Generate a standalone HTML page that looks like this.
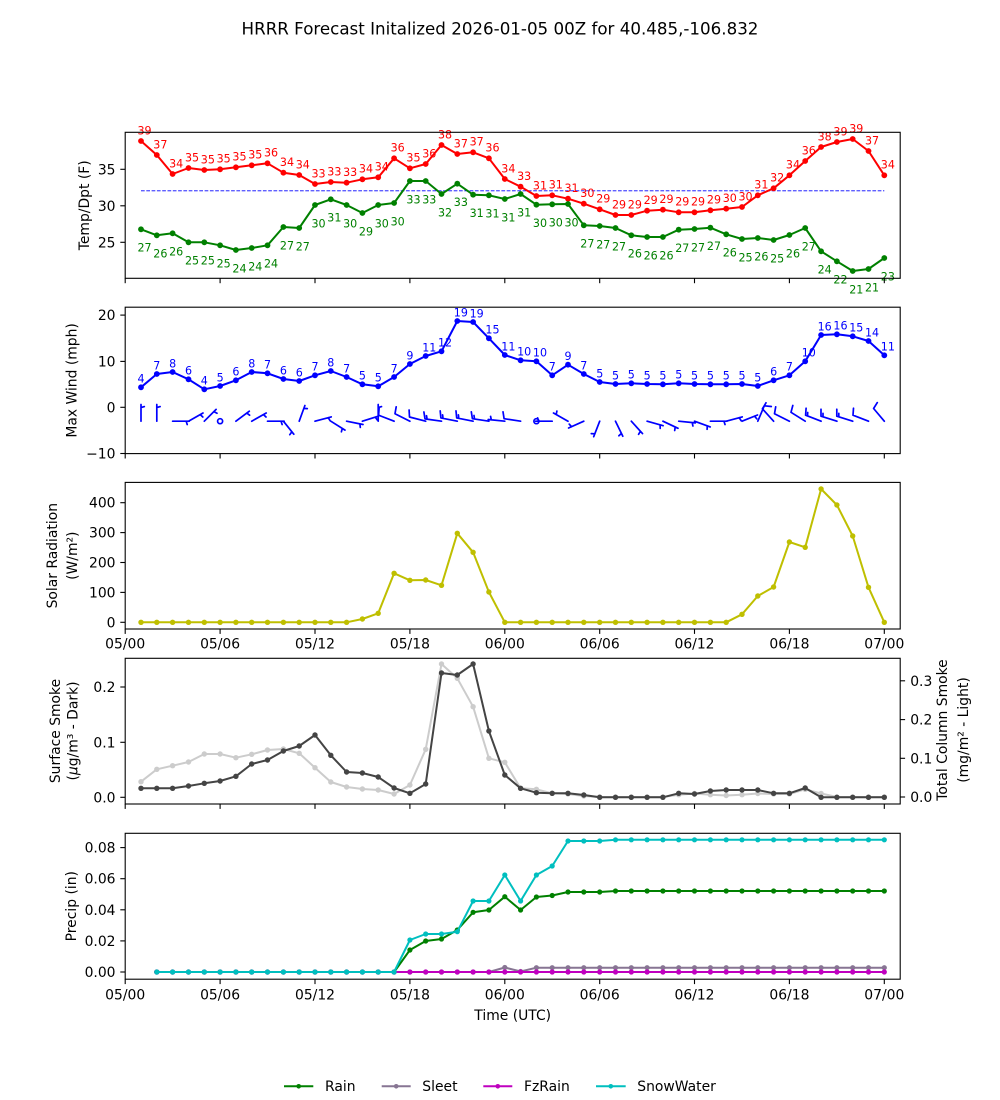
<!DOCTYPE html>
<html><head><meta charset="utf-8"><style>
html,body{margin:0;padding:0;background:#fff;}
svg{display:block;}
text{font-family:"DejaVu Sans","Liberation Sans",sans-serif;fill:#000;}
.tk{font-size:13.9px;}
.yl{font-size:13.9px;}
.vl{font-size:11.1px;}
.tr text{fill:#ff0000;} .tg text{fill:#008000;} .tb text{fill:#0000ff;}
</style></head><body>
<svg width="1000" height="1100" viewBox="0 0 1000 1100" xmlns="http://www.w3.org/2000/svg">
<defs>
<marker id="mR" viewBox="-4 -4 8 8" markerWidth="8" markerHeight="8" markerUnits="userSpaceOnUse" refX="0" refY="0"><circle r="2.9" fill="#ff0000"/></marker>
<marker id="mG" viewBox="-4 -4 8 8" markerWidth="8" markerHeight="8" markerUnits="userSpaceOnUse" refX="0" refY="0"><circle r="2.9" fill="#008000"/></marker>
<marker id="mB" viewBox="-4 -4 8 8" markerWidth="8" markerHeight="8" markerUnits="userSpaceOnUse" refX="0" refY="0"><circle r="2.9" fill="#0000ff"/></marker>
<marker id="mY" viewBox="-4 -4 8 8" markerWidth="8" markerHeight="8" markerUnits="userSpaceOnUse" refX="0" refY="0"><circle r="2.7" fill="#bfbf00"/></marker>
<marker id="mD" viewBox="-4 -4 8 8" markerWidth="8" markerHeight="8" markerUnits="userSpaceOnUse" refX="0" refY="0"><circle r="2.7" fill="#444444"/></marker>
<marker id="mL" viewBox="-4 -4 8 8" markerWidth="8" markerHeight="8" markerUnits="userSpaceOnUse" refX="0" refY="0"><circle r="2.7" fill="#cccccc"/></marker>
<marker id="mRain" viewBox="-4 -4 8 8" markerWidth="8" markerHeight="8" markerUnits="userSpaceOnUse" refX="0" refY="0"><circle r="2.6" fill="#008000"/></marker>
<marker id="mSl" viewBox="-4 -4 8 8" markerWidth="8" markerHeight="8" markerUnits="userSpaceOnUse" refX="0" refY="0"><circle r="2.6" fill="#877593"/></marker>
<marker id="mFz" viewBox="-4 -4 8 8" markerWidth="8" markerHeight="8" markerUnits="userSpaceOnUse" refX="0" refY="0"><circle r="2.6" fill="#bf00bf"/></marker>
<marker id="mSn" viewBox="-4 -4 8 8" markerWidth="8" markerHeight="8" markerUnits="userSpaceOnUse" refX="0" refY="0"><circle r="2.6" fill="#00bfbf"/></marker>
</defs>
<rect x="0" y="0" width="1000" height="1100" fill="#fff"/>

<text x="500" y="34.5" text-anchor="middle" style="font-size:16.7px">HRRR Forecast Initalized 2026-01-05 00Z for 40.485,-106.832</text>

<!-- ============ PANEL 1 ============ -->
<line x1="141" y1="190.8" x2="884.3" y2="190.8" stroke="#0000ff" stroke-width="0.9" stroke-dasharray="3.7 1.6"/>
<polyline fill="none" stroke="#ff0000" stroke-width="2" stroke-linejoin="round" marker-start="url(#mR)" marker-mid="url(#mR)" marker-end="url(#mR)" points="141.0,141 156.8,155 172.6,174 188.5,168 204.3,170 220.1,169.3 235.9,167.3 251.7,165.3 267.5,163.3 283.4,172.7 299.2,175 315.0,184 330.8,182 346.6,182.7 362.4,179.3 378.2,177.3 394.1,158.3 409.9,168.3 425.7,164 441.5,145 457.3,154 473.1,152.3 488.9,158.3 504.8,179 520.6,186.7 536.4,196 552.2,195.3 568.0,198.7 583.8,203.7 599.7,209.3 615.5,215 631.3,215 647.1,210.7 662.9,209.7 678.7,212.3 694.5,212.3 710.4,210.3 726.2,208.7 742.0,207 757.8,195.3 773.6,188.3 789.4,175.3 805.2,161 821.1,147 836.9,142 852.7,139 868.5,151 884.3,175.3"/>
<polyline fill="none" stroke="#008000" stroke-width="2" stroke-linejoin="round" marker-start="url(#mG)" marker-mid="url(#mG)" marker-end="url(#mG)" points="141.0,229.3 156.8,235.3 172.6,233.3 188.5,242.3 204.3,242.3 220.1,245.3 235.9,250 251.7,248 267.5,245.3 283.4,227 299.2,228 315.0,205 330.8,199.3 346.6,205 362.4,213 378.2,205 394.1,203 409.9,181 425.7,181 441.5,194 457.3,183.7 473.1,194.7 488.9,195.3 504.8,199 520.6,194 536.4,204.7 552.2,204.3 568.0,204 583.8,225.3 599.7,226 615.5,228 631.3,235.3 647.1,237 662.9,237 678.7,229.7 694.5,229 710.4,227.7 726.2,234.3 742.0,239 757.8,238 773.6,240 789.4,235 805.2,228 821.1,251.3 836.9,261.3 852.7,271 868.5,269 884.3,258"/>
<g class="vl tr">
<text x="137.5" y="134.3">39</text><text x="153.3" y="148.3">37</text><text x="169.1" y="167.3">34</text><text x="185.0" y="161.3">35</text><text x="200.8" y="163.3">35</text><text x="216.6" y="162.6">35</text><text x="232.4" y="160.6">35</text><text x="248.2" y="158.6">35</text><text x="264.0" y="156.6">36</text><text x="279.9" y="166.0">34</text><text x="295.7" y="168.3">34</text><text x="311.5" y="177.3">33</text><text x="327.3" y="175.3">33</text><text x="343.1" y="176.0">33</text><text x="358.9" y="172.6">34</text><text x="374.7" y="170.6">34</text><text x="390.6" y="151.6">36</text><text x="406.4" y="161.6">35</text><text x="422.2" y="157.3">36</text><text x="438.0" y="138.3">38</text><text x="453.8" y="147.3">37</text><text x="469.6" y="145.6">37</text><text x="485.4" y="151.6">36</text><text x="501.3" y="172.3">34</text><text x="517.1" y="180.0">33</text><text x="532.9" y="189.3">31</text><text x="548.7" y="188.6">31</text><text x="564.5" y="192.0">31</text><text x="580.3" y="197.0">30</text><text x="596.2" y="202.6">29</text><text x="612.0" y="208.3">29</text><text x="627.8" y="208.3">29</text><text x="643.6" y="204.0">29</text><text x="659.4" y="203.0">29</text><text x="675.2" y="205.6">29</text><text x="691.0" y="205.6">29</text><text x="706.9" y="203.6">29</text><text x="722.7" y="202.0">30</text><text x="738.5" y="200.3">30</text><text x="754.3" y="188.6">31</text><text x="770.1" y="181.6">32</text><text x="785.9" y="168.6">34</text><text x="801.7" y="154.3">36</text><text x="817.6" y="140.3">38</text><text x="833.4" y="135.3">39</text><text x="849.2" y="132.3">39</text><text x="865.0" y="144.3">37</text><text x="880.8" y="168.6">34</text>
</g>
<g class="vl tg">
<text x="137.5" y="251.6">27</text><text x="153.3" y="257.6">26</text><text x="169.1" y="255.6">26</text><text x="185.0" y="264.6">25</text><text x="200.8" y="264.6">25</text><text x="216.6" y="267.6">25</text><text x="232.4" y="272.3">24</text><text x="248.2" y="270.3">24</text><text x="264.0" y="267.6">24</text><text x="279.9" y="249.3">27</text><text x="295.7" y="250.3">27</text><text x="311.5" y="227.3">30</text><text x="327.3" y="221.6">31</text><text x="343.1" y="227.3">30</text><text x="358.9" y="235.3">29</text><text x="374.7" y="227.3">30</text><text x="390.6" y="225.3">30</text><text x="406.4" y="203.3">33</text><text x="422.2" y="203.3">33</text><text x="438.0" y="216.3">32</text><text x="453.8" y="206.0">33</text><text x="469.6" y="217.0">31</text><text x="485.4" y="217.6">31</text><text x="501.3" y="221.3">31</text><text x="517.1" y="216.3">31</text><text x="532.9" y="227.0">30</text><text x="548.7" y="226.6">30</text><text x="564.5" y="226.3">30</text><text x="580.3" y="247.6">27</text><text x="596.2" y="248.3">27</text><text x="612.0" y="250.3">27</text><text x="627.8" y="257.6">26</text><text x="643.6" y="259.3">26</text><text x="659.4" y="259.3">26</text><text x="675.2" y="252.0">27</text><text x="691.0" y="251.3">27</text><text x="706.9" y="250.0">27</text><text x="722.7" y="256.6">26</text><text x="738.5" y="261.3">25</text><text x="754.3" y="260.3">26</text><text x="770.1" y="262.3">25</text><text x="785.9" y="257.3">26</text><text x="801.7" y="250.3">27</text><text x="817.6" y="273.6">24</text><text x="833.4" y="283.6">22</text><text x="849.2" y="293.3">21</text><text x="865.0" y="291.3">21</text><text x="880.8" y="280.3">23</text>
</g>
<rect x="125.2" y="132.3" width="775" height="146" fill="none" stroke="#000" stroke-width="1.1"/>
<g stroke="#000" stroke-width="1.1">
<line x1="120.3" y1="242.3" x2="125.2" y2="242.3"/><line x1="120.3" y1="205.8" x2="125.2" y2="205.8"/><line x1="120.3" y1="169.3" x2="125.2" y2="169.3"/>
<line x1="125.2" y1="278.3" x2="125.2" y2="283.2"/><line x1="220.1" y1="278.3" x2="220.1" y2="283.2"/><line x1="315.0" y1="278.3" x2="315.0" y2="283.2"/><line x1="409.9" y1="278.3" x2="409.9" y2="283.2"/><line x1="504.8" y1="278.3" x2="504.8" y2="283.2"/><line x1="599.7" y1="278.3" x2="599.7" y2="283.2"/><line x1="694.5" y1="278.3" x2="694.5" y2="283.2"/><line x1="789.4" y1="278.3" x2="789.4" y2="283.2"/><line x1="884.3" y1="278.3" x2="884.3" y2="283.2"/>
</g>
<g class="tk" text-anchor="end">
<text x="115.5" y="247.3">25</text><text x="115.5" y="210.8">30</text><text x="115.5" y="174.3">35</text>
</g>
<text class="yl" transform="translate(88.8,205.3) rotate(-90)" text-anchor="middle">Temp/Dpt (F)</text>

<!-- ============ PANEL 2 ============ -->
<polyline fill="none" stroke="#0000ff" stroke-width="2" stroke-linejoin="round" marker-start="url(#mB)" marker-mid="url(#mB)" marker-end="url(#mB)" points="141.0,387.3 156.8,374 172.6,372 188.5,379.3 204.3,389.3 220.1,386 235.9,380.3 251.7,372 267.5,373.3 283.4,379 299.2,381 315.0,375.3 330.8,371 346.6,377 362.4,384.3 378.2,386.3 394.1,377 409.9,364 425.7,356 441.5,351.3 457.3,321 473.1,322 488.9,338.3 504.8,355 520.6,360.3 536.4,361.3 552.2,375.3 568.0,364.7 583.8,374 599.7,382 615.5,384 631.3,383.3 647.1,384 662.9,384.3 678.7,383.3 694.5,384 710.4,384.3 726.2,384.3 742.0,384 757.8,386 773.6,380.3 789.4,375.3 805.2,361.3 821.1,335 836.9,334.3 852.7,336.3 868.5,341 884.3,355.3"/>
<g class="vl tb">
<text x="137.5" y="382.6">4</text><text x="153.3" y="369.3">7</text><text x="169.1" y="367.3">8</text><text x="185.0" y="374.6">6</text><text x="200.8" y="384.6">4</text><text x="216.6" y="381.3">5</text><text x="232.4" y="375.6">6</text><text x="248.2" y="367.3">8</text><text x="264.0" y="368.6">7</text><text x="279.9" y="374.3">6</text><text x="295.7" y="376.3">6</text><text x="311.5" y="370.6">7</text><text x="327.3" y="366.3">8</text><text x="343.1" y="372.3">7</text><text x="358.9" y="379.6">5</text><text x="374.7" y="381.6">5</text><text x="390.6" y="372.3">7</text><text x="406.4" y="359.3">9</text><text x="422.2" y="351.3">11</text><text x="438.0" y="346.6">12</text><text x="453.8" y="316.3">19</text><text x="469.6" y="317.3">19</text><text x="485.4" y="333.6">15</text><text x="501.3" y="350.3">11</text><text x="517.1" y="355.6">10</text><text x="532.9" y="356.6">10</text><text x="548.7" y="370.6">7</text><text x="564.5" y="360.0">9</text><text x="580.3" y="369.3">7</text><text x="596.2" y="377.3">5</text><text x="612.0" y="379.3">5</text><text x="627.8" y="378.6">5</text><text x="643.6" y="379.3">5</text><text x="659.4" y="379.6">5</text><text x="675.2" y="378.6">5</text><text x="691.0" y="379.3">5</text><text x="706.9" y="379.6">5</text><text x="722.7" y="379.6">5</text><text x="738.5" y="379.3">5</text><text x="754.3" y="381.3">5</text><text x="770.1" y="375.6">6</text><text x="785.9" y="370.6">7</text><text x="801.7" y="356.6">10</text><text x="817.6" y="330.3">16</text><text x="833.4" y="329.6">16</text><text x="849.2" y="331.6">15</text><text x="865.0" y="336.3">14</text><text x="880.8" y="350.6">11</text>
</g>
<g fill="none" stroke="#0000ff" stroke-width="1.7" stroke-linejoin="round" stroke-linecap="round">
<path d="M141.0,421.2L141.0,404.5M141.0,407.6L144.3,406.6
M156.8,421.2L156.8,404.5M156.8,407.6L160.1,406.6
M172.6,421.2L189.3,421.2M186.2,421.2L187.2,424.5
M188.5,421.2L203.0,413.0M200.3,414.6L202.8,417.0
M204.3,421.2L216.1,409.4M213.9,411.6L217.0,413.2
M235.9,421.2L249.3,411.2M246.8,413.1L249.6,415.2
M251.7,421.2L266.2,413.0M263.5,414.6L266.0,417.0
M267.5,421.2L284.2,421.2M281.1,421.2L282.1,424.5
M283.4,421.2L293.8,434.2M291.8,431.8L289.8,434.7
M299.2,421.2L304.9,405.5M303.8,408.4L307.3,408.6
M315.0,421.2L331.2,416.9M328.2,417.7L330.1,420.7
M330.8,421.2L345.0,430.1M342.3,428.4L341.4,431.8
M346.6,421.2L363.0,424.5M359.9,423.9L360.3,427.4
M362.4,421.2L378.3,416.2M375.3,417.1L377.3,420.0
M378.2,421.2L378.2,404.5M378.2,407.6L381.5,406.6
M394.1,421.2L378.6,415.2L379.1,408.2
M409.9,421.2L395.0,413.7L396.2,406.8
M425.7,421.2L409.5,417.0L409.1,410.0
M441.5,421.2L425.0,418.9L423.9,412.0M427.1,419.2L426.5,415.7
M457.3,421.2L440.9,417.9L440.2,410.9M443.0,418.3L442.6,414.8
M473.1,421.2L456.7,417.9L456.0,410.9M458.8,418.3L458.4,414.8
M488.9,421.2L472.4,418.7L471.3,411.8M474.5,419.0L474.0,415.5
M504.8,421.2L488.2,419.5M491.3,419.8L490.6,416.4
M520.6,421.2L504.1,418.7L503.0,411.8
M552.2,421.2L535.5,421.2M538.6,421.2L537.6,417.9
M568.0,421.2L553.5,413.0M556.2,414.5L556.9,411.1
M583.8,421.2L568.6,428.0M571.5,426.7L569.2,424.1
M599.7,421.2L593.7,436.7M594.8,433.8L591.3,433.6
M615.5,421.2L622.8,436.2M621.4,433.4L618.9,435.8
M631.3,421.2L642.5,433.6M640.4,431.3L638.6,434.3
M647.1,421.2L663.1,425.7M660.1,424.9L660.2,428.4
M662.9,421.2L678.0,428.3M675.2,427.0L674.7,430.5
M678.7,421.2L695.3,422.9M692.2,422.6L692.9,426.0
M694.5,421.2L710.2,426.9M707.3,425.8L707.1,429.3
M710.4,421.2L727.1,421.2M724.0,421.2L725.0,424.5
M726.2,421.2L742.2,416.9M739.2,417.7L741.1,420.6
M742.0,421.2L757.5,415.0M754.6,416.2L756.8,418.9
M757.8,421.2L764.3,405.8L771.3,406.5
M773.6,421.2L762.4,408.8L766.0,402.8
M789.4,421.2L774.5,413.7L775.7,406.8
M805.2,421.2L791.0,412.3L792.8,405.5
M821.1,421.2L805.6,415.2L806.1,408.2M807.5,416.0L807.7,412.5
M836.9,421.2L821.0,416.2L821.0,409.2M823.0,416.8L823.0,413.3
M852.7,421.2L836.8,416.2L836.8,409.2M838.8,416.8L838.8,413.3
M868.5,421.2L853.0,415.2L853.5,408.2
M884.3,421.2L873.6,408.5L877.3,402.6"/>
<circle cx="220.1" cy="421.2" r="2.5"/>
<circle cx="536.4" cy="421.2" r="2.5"/>
</g>
<rect x="125.2" y="307.2" width="775" height="146.4" fill="none" stroke="#000" stroke-width="1.1"/>
<g stroke="#000" stroke-width="1.1">
<line x1="120.3" y1="453.5" x2="125.2" y2="453.5"/><line x1="120.3" y1="407.3" x2="125.2" y2="407.3"/><line x1="120.3" y1="361.4" x2="125.2" y2="361.4"/><line x1="120.3" y1="315.1" x2="125.2" y2="315.1"/>
<line x1="125.2" y1="453.6" x2="125.2" y2="458.5"/><line x1="220.1" y1="453.6" x2="220.1" y2="458.5"/><line x1="315.0" y1="453.6" x2="315.0" y2="458.5"/><line x1="409.9" y1="453.6" x2="409.9" y2="458.5"/><line x1="504.8" y1="453.6" x2="504.8" y2="458.5"/><line x1="599.7" y1="453.6" x2="599.7" y2="458.5"/><line x1="694.5" y1="453.6" x2="694.5" y2="458.5"/><line x1="789.4" y1="453.6" x2="789.4" y2="458.5"/><line x1="884.3" y1="453.6" x2="884.3" y2="458.5"/>
</g>
<g class="tk" text-anchor="end">
<text x="115.5" y="458.5">−10</text><text x="115.5" y="412.3">0</text><text x="115.5" y="366.4">10</text><text x="115.5" y="320.1">20</text>
</g>
<text class="yl" transform="translate(76.5,380.4) rotate(-90)" text-anchor="middle">Max Wind (mph)</text>

<!-- ============ PANEL 3 ============ -->
<polyline fill="none" stroke="#bfbf00" stroke-width="2" stroke-linejoin="round" marker-start="url(#mY)" marker-mid="url(#mY)" marker-end="url(#mY)" points="141.0,622.3 156.8,622.3 172.6,622.3 188.5,622.3 204.3,622.3 220.1,622.3 235.9,622.3 251.7,622.3 267.5,622.3 283.4,622.3 299.2,622.3 315.0,622.3 330.8,622.3 346.6,622.3 362.4,619 378.2,613.3 394.1,573.3 409.9,580.3 425.7,580 441.5,585.3 457.3,533.3 473.1,552.3 488.9,592 504.8,622.3 520.6,622.3 536.4,622.3 552.2,622.3 568.0,622.3 583.8,622.3 599.7,622.3 615.5,622.3 631.3,622.3 647.1,622.3 662.9,622.3 678.7,622.3 694.5,622.3 710.4,622.3 726.2,622.3 742.0,614.3 757.8,596 773.6,587 789.4,542 805.2,547.3 821.1,489 836.9,505 852.7,536 868.5,587.3 884.3,622.3"/>
<rect x="125.2" y="482.4" width="775" height="146.6" fill="none" stroke="#000" stroke-width="1.1"/>
<g stroke="#000" stroke-width="1.1">
<line x1="120.3" y1="622.3" x2="125.2" y2="622.3"/><line x1="120.3" y1="592.4" x2="125.2" y2="592.4"/><line x1="120.3" y1="562.5" x2="125.2" y2="562.5"/><line x1="120.3" y1="532.6" x2="125.2" y2="532.6"/><line x1="120.3" y1="502.7" x2="125.2" y2="502.7"/>
<line x1="125.2" y1="629" x2="125.2" y2="633.9"/><line x1="220.1" y1="629" x2="220.1" y2="633.9"/><line x1="315.0" y1="629" x2="315.0" y2="633.9"/><line x1="409.9" y1="629" x2="409.9" y2="633.9"/><line x1="504.8" y1="629" x2="504.8" y2="633.9"/><line x1="599.7" y1="629" x2="599.7" y2="633.9"/><line x1="694.5" y1="629" x2="694.5" y2="633.9"/><line x1="789.4" y1="629" x2="789.4" y2="633.9"/><line x1="884.3" y1="629" x2="884.3" y2="633.9"/>
</g>
<g class="tk" text-anchor="end">
<text x="115.5" y="627.3">0</text><text x="115.5" y="597.4">100</text><text x="115.5" y="567.5">200</text><text x="115.5" y="537.6">300</text><text x="115.5" y="507.7">400</text>
</g>
<g class="tk" text-anchor="middle">
<text x="125.2" y="648.5">05/00</text><text x="220.1" y="648.5">05/06</text><text x="315.0" y="648.5">05/12</text><text x="409.9" y="648.5">05/18</text><text x="504.8" y="648.5">06/00</text><text x="599.7" y="648.5">06/06</text><text x="694.5" y="648.5">06/12</text><text x="789.4" y="648.5">06/18</text><text x="884.3" y="648.5">07/00</text>
</g>
<text class="yl" transform="translate(57,555.7) rotate(-90)" text-anchor="middle">Solar Radiation</text>
<text class="yl" transform="translate(76.8,555.7) rotate(-90)" text-anchor="middle">(W/m²)</text>

<!-- ============ PANEL 4 ============ -->
<polyline fill="none" stroke="#cccccc" stroke-width="2" stroke-linejoin="round" marker-start="url(#mL)" marker-mid="url(#mL)" marker-end="url(#mL)" points="141.0,781.7 156.8,769.3 172.6,765.7 188.5,762 204.3,754 220.1,754 235.9,757.7 251.7,754.3 267.5,750 283.4,749 299.2,753.3 315.0,767.7 330.8,782 346.6,787 362.4,789 378.2,790 394.1,794 409.9,785 425.7,749.3 441.5,664 457.3,678.3 473.1,706.7 488.9,758.3 504.8,762.3 520.6,788.3 536.4,789.3 552.2,793.3 568.0,794 583.8,796 599.7,797 615.5,797 631.3,797 647.1,797 662.9,797 678.7,794.7 694.5,793.5 710.4,794.7 726.2,795.5 742.0,794.7 757.8,793.5 773.6,794 789.4,794 805.2,789.3 821.1,793.5 836.9,797 852.7,797 868.5,797 884.3,797"/>
<polyline fill="none" stroke="#444444" stroke-width="2" stroke-linejoin="round" marker-start="url(#mD)" marker-mid="url(#mD)" marker-end="url(#mD)" points="141.0,788.3 156.8,788.3 172.6,788.3 188.5,786 204.3,783.3 220.1,781 235.9,776.3 251.7,764 267.5,760 283.4,751 299.2,746 315.0,735 330.8,755.3 346.6,772 362.4,773 378.2,777 394.1,788 409.9,793.3 425.7,784 441.5,673 457.3,675 473.1,664 488.9,731 504.8,775 520.6,788.3 536.4,792.7 552.2,793.3 568.0,793.3 583.8,795 599.7,797.3 615.5,797.3 631.3,797.3 647.1,797.3 662.9,797.3 678.7,793.3 694.5,794 710.4,791 726.2,790 742.0,790 757.8,790 773.6,793.3 789.4,793.3 805.2,788 821.1,797.3 836.9,797.3 852.7,797.3 868.5,797.3 884.3,797.3"/>
<rect x="125.2" y="658.3" width="775" height="145.7" fill="none" stroke="#000" stroke-width="1.1"/>
<g stroke="#000" stroke-width="1.1">
<line x1="120.3" y1="797.3" x2="125.2" y2="797.3"/><line x1="120.3" y1="742.3" x2="125.2" y2="742.3"/><line x1="120.3" y1="687.0" x2="125.2" y2="687.0"/>
<line x1="900.2" y1="797.0" x2="905.1" y2="797.0"/><line x1="900.2" y1="758.3" x2="905.1" y2="758.3"/><line x1="900.2" y1="719.6" x2="905.1" y2="719.6"/><line x1="900.2" y1="680.8" x2="905.1" y2="680.8"/>
<line x1="125.2" y1="804" x2="125.2" y2="808.9"/><line x1="220.1" y1="804" x2="220.1" y2="808.9"/><line x1="315.0" y1="804" x2="315.0" y2="808.9"/><line x1="409.9" y1="804" x2="409.9" y2="808.9"/><line x1="504.8" y1="804" x2="504.8" y2="808.9"/><line x1="599.7" y1="804" x2="599.7" y2="808.9"/><line x1="694.5" y1="804" x2="694.5" y2="808.9"/><line x1="789.4" y1="804" x2="789.4" y2="808.9"/><line x1="884.3" y1="804" x2="884.3" y2="808.9"/>
</g>
<g class="tk" text-anchor="end">
<text x="115.5" y="802.3">0.0</text><text x="115.5" y="747.3">0.1</text><text x="115.5" y="692.0">0.2</text>
</g>
<g class="tk" text-anchor="start">
<text x="910.2" y="802.0">0.0</text><text x="910.2" y="763.3">0.1</text><text x="910.2" y="724.6">0.2</text><text x="910.2" y="685.8">0.3</text>
</g>
<text class="yl" transform="translate(60,731) rotate(-90)" text-anchor="middle">Surface Smoke</text>
<text class="yl" transform="translate(77.5,731) rotate(-90)" text-anchor="middle">(<tspan font-style="italic">μ</tspan>g/m³ - Dark)</text>
<text class="yl" transform="translate(947,730) rotate(-90)" text-anchor="middle">Total Column Smoke</text>
<text class="yl" transform="translate(968,730) rotate(-90)" text-anchor="middle">(mg/m² - Light)</text>

<!-- ============ PANEL 5 ============ -->
<polyline fill="none" stroke="#008000" stroke-width="2" stroke-linejoin="round" marker-start="url(#mRain)" marker-mid="url(#mRain)" marker-end="url(#mRain)" points="156.8,972 172.6,972 188.5,972 204.3,972 220.1,972 235.9,972 251.7,972 267.5,972 283.4,972 299.2,972 315.0,972 330.8,972 346.6,972 362.4,972 378.2,972 394.1,972 409.9,950 425.7,941 441.5,939 457.3,930 473.1,912.3 488.9,910 504.8,896.7 520.6,910 536.4,897 552.2,895.5 568.0,892 583.8,892 599.7,892 615.5,891 631.3,891 647.1,891 662.9,891 678.7,891 694.5,891 710.4,891 726.2,891 742.0,891 757.8,891 773.6,891 789.4,891 805.2,891 821.1,891 836.9,891 852.7,891 868.5,891 884.3,891"/>
<polyline fill="none" stroke="#877593" stroke-width="2" stroke-linejoin="round" marker-start="url(#mSl)" marker-mid="url(#mSl)" marker-end="url(#mSl)" points="156.8,972 172.6,972 188.5,972 204.3,972 220.1,972 235.9,972 251.7,972 267.5,972 283.4,972 299.2,972 315.0,972 330.8,972 346.6,972 362.4,972 378.2,972 394.1,972 409.9,972 425.7,972 441.5,972 457.3,972 473.1,972 488.9,972 504.8,967.5 520.6,971.5 536.4,967.7 552.2,967.7 568.0,967.7 583.8,967.7 599.7,967.7 615.5,967.7 631.3,967.7 647.1,967.7 662.9,967.7 678.7,967.7 694.5,967.7 710.4,967.7 726.2,967.7 742.0,967.7 757.8,967.7 773.6,967.7 789.4,967.7 805.2,967.7 821.1,967.7 836.9,967.7 852.7,967.7 868.5,967.7 884.3,967.7"/>
<polyline fill="none" stroke="#bf00bf" stroke-width="2" stroke-linejoin="round" marker-start="url(#mFz)" marker-mid="url(#mFz)" marker-end="url(#mFz)" points="156.8,972 172.6,972 188.5,972 204.3,972 220.1,972 235.9,972 251.7,972 267.5,972 283.4,972 299.2,972 315.0,972 330.8,972 346.6,972 362.4,972 378.2,972 394.1,972 409.9,972 425.7,972 441.5,972 457.3,972 473.1,972 488.9,972 504.8,972 520.6,972 536.4,972 552.2,972 568.0,972 583.8,972 599.7,972 615.5,972 631.3,972 647.1,972 662.9,972 678.7,972 694.5,972 710.4,972 726.2,972 742.0,972 757.8,972 773.6,972 789.4,972 805.2,972 821.1,972 836.9,972 852.7,972 868.5,972 884.3,972"/>
<polyline fill="none" stroke="#00bfbf" stroke-width="2" stroke-linejoin="round" marker-start="url(#mSn)" marker-mid="url(#mSn)" marker-end="url(#mSn)" points="156.8,972 172.6,972 188.5,972 204.3,972 220.1,972 235.9,972 251.7,972 267.5,972 283.4,972 299.2,972 315.0,972 330.8,972 346.6,972 362.4,972 378.2,972 394.1,972 409.9,940 425.7,934 441.5,934 457.3,931.7 473.1,901 488.9,901 504.8,875 520.6,901 536.4,875 552.2,866 568.0,841 583.8,841 599.7,841 615.5,839.8 631.3,839.8 647.1,839.8 662.9,839.8 678.7,839.8 694.5,839.8 710.4,839.8 726.2,839.8 742.0,839.8 757.8,839.8 773.6,839.8 789.4,839.8 805.2,839.8 821.1,839.8 836.9,839.8 852.7,839.8 868.5,839.8 884.3,839.8"/>
<rect x="125.2" y="833.3" width="775" height="145.9" fill="none" stroke="#000" stroke-width="1.1"/>
<g stroke="#000" stroke-width="1.1">
<line x1="120.3" y1="972.0" x2="125.2" y2="972.0"/><line x1="120.3" y1="940.9" x2="125.2" y2="940.9"/><line x1="120.3" y1="909.8" x2="125.2" y2="909.8"/><line x1="120.3" y1="878.7" x2="125.2" y2="878.7"/><line x1="120.3" y1="847.6" x2="125.2" y2="847.6"/>
<line x1="125.2" y1="979.2" x2="125.2" y2="984.1"/><line x1="220.1" y1="979.2" x2="220.1" y2="984.1"/><line x1="315.0" y1="979.2" x2="315.0" y2="984.1"/><line x1="409.9" y1="979.2" x2="409.9" y2="984.1"/><line x1="504.8" y1="979.2" x2="504.8" y2="984.1"/><line x1="599.7" y1="979.2" x2="599.7" y2="984.1"/><line x1="694.5" y1="979.2" x2="694.5" y2="984.1"/><line x1="789.4" y1="979.2" x2="789.4" y2="984.1"/><line x1="884.3" y1="979.2" x2="884.3" y2="984.1"/>
</g>
<g class="tk" text-anchor="end">
<text x="115.5" y="977.0">0.00</text><text x="115.5" y="945.9">0.02</text><text x="115.5" y="914.8">0.04</text><text x="115.5" y="883.7">0.06</text><text x="115.5" y="852.6">0.08</text>
</g>
<g class="tk" text-anchor="middle">
<text x="125.2" y="999.5">05/00</text><text x="220.1" y="999.5">05/06</text><text x="315.0" y="999.5">05/12</text><text x="409.9" y="999.5">05/18</text><text x="504.8" y="999.5">06/00</text><text x="599.7" y="999.5">06/06</text><text x="694.5" y="999.5">06/12</text><text x="789.4" y="999.5">06/18</text><text x="884.3" y="999.5">07/00</text>
</g>
<text class="yl" x="512.7" y="1020" text-anchor="middle">Time (UTC)</text>
<text class="yl" transform="translate(75.8,906.2) rotate(-90)" text-anchor="middle">Precip (in)</text>

<!-- ============ LEGEND ============ -->
<g stroke-width="2">
<line x1="284" y1="1086.3" x2="313.3" y2="1086.3" stroke="#008000"/><circle cx="298.7" cy="1086.3" r="2.3" fill="#008000"/>
<line x1="381.7" y1="1086.3" x2="410.7" y2="1086.3" stroke="#877593"/><circle cx="396.2" cy="1086.3" r="2.3" fill="#877593"/>
<line x1="483.3" y1="1086.3" x2="512.3" y2="1086.3" stroke="#bf00bf"/><circle cx="497.8" cy="1086.3" r="2.3" fill="#bf00bf"/>
<line x1="596" y1="1086.3" x2="625.7" y2="1086.3" stroke="#00bfbf"/><circle cx="610.8" cy="1086.3" r="2.3" fill="#00bfbf"/>
</g>
<g class="tk">
<text x="325" y="1091">Rain</text><text x="422.3" y="1091">Sleet</text><text x="524" y="1091">FzRain</text><text x="637.3" y="1091">SnowWater</text>
</g>
</svg>
</body></html>
